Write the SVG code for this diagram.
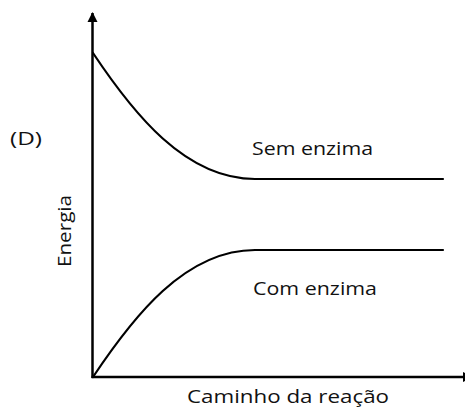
<svg xmlns="http://www.w3.org/2000/svg" width="465" height="412" viewBox="0 0 465 412">
  <style>
    .lbl { font-family: "Open Sans", "Liberation Sans", sans-serif; font-size: 18px; fill: #111; }
    .axis { stroke: #000; stroke-width: 2.5; fill: none; }
    .curve { stroke: #000; stroke-width: 2.2; fill: none; stroke-linecap: round; }
  </style>
  <defs>
    <marker id="arrow" viewBox="0 0 10 10" refX="9" refY="5" markerWidth="4.2" markerHeight="4.2" orient="auto" markerUnits="strokeWidth">
      <path d="M0,0 L10,5 L0,10 Z" fill="#000"/>
    </marker>
  </defs>
  <rect width="465" height="412" fill="#fff"/>
  <g id="axes">
    <line class="axis" x1="92.5" y1="378" x2="92.5" y2="13" marker-end="url(#arrow)"/>
    <line class="axis" x1="91.5" y1="377" x2="472" y2="377" marker-end="url(#arrow)"/>
  </g>
  <g id="curves">
    <path id="sem-enzima-curve" class="curve" d="M93,53 C133,113 185,179 255,179 L443,179"/>
    <path id="com-enzima-curve" class="curve" d="M93,377 C133,317 185,250 255,250 L443,250"/>
  </g>
  <g id="labels">
    <text id="label-d" class="lbl" x="10" y="145" textLength="32" lengthAdjust="spacingAndGlyphs">(D)</text>
    <text id="label-sem" class="lbl" x="252" y="155" textLength="121" lengthAdjust="spacingAndGlyphs">Sem enzima</text>
    <text id="label-com" class="lbl" x="253" y="295" textLength="124" lengthAdjust="spacingAndGlyphs">Com enzima</text>
    <text id="label-x" class="lbl" x="187" y="403" textLength="202" lengthAdjust="spacingAndGlyphs">Caminho da reação</text>
    <text id="label-y" class="lbl" transform="translate(71,267) rotate(-90)" x="0" y="0" textLength="72" lengthAdjust="spacingAndGlyphs">Energia</text>
  </g>
</svg>
